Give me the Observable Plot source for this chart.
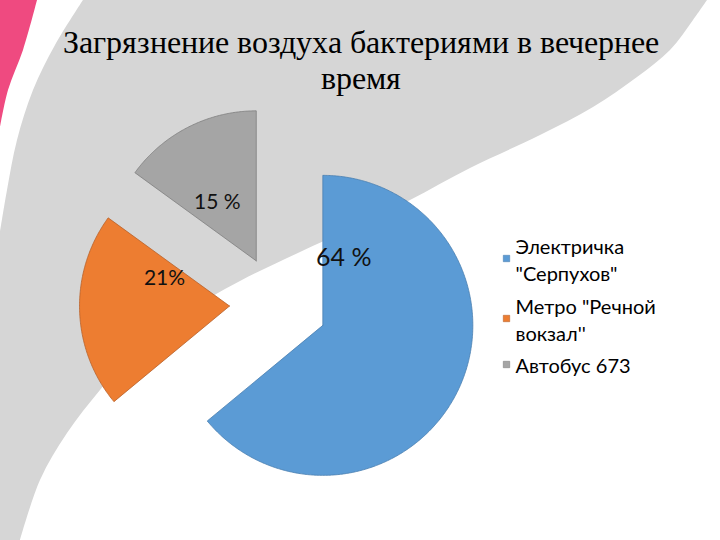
<!DOCTYPE html>
<html>
<head>
<meta charset="utf-8">
<script src="https://cdn.jsdelivr.net/npm/d3@7"></script>
<script src="https://cdn.jsdelivr.net/npm/@observablehq/plot@0.6"></script>
<style>
  @font-face {
    font-family: "TitleSerif";
    src: local("Liberation Serif"), local("LiberationSerif"), local("LiberationSerif-Regular"),
         local("Liberation Serif Regular"), local("Times New Roman"), local("DejaVu Serif"),
         local("DejaVuSerif"), local("Noto Serif");
  }
  html, body { margin: 0; padding: 0; background: #ffffff; }
  #wrap { position: relative; width: 720px; height: 540px; }
  #chart { position: absolute; left: 0; top: 0; width: 720px; height: 540px; }
  #title {
    position: absolute; left: 0; top: 24px; width: 720px;
    text-align: center;
    font-family: "TitleSerif", "Liberation Serif", "Times New Roman", Times, "DejaVu Serif", serif;
    font-size: 32px; line-height: 36px; color: #000;
    padding-left: 2px; box-sizing: border-box;
  }
</style>
</head>
<body>
<div id="wrap">
  <div id="chart"></div>
  <div id="title"></div>
</div>
<script>
// ---------- data ----------
const categories = ['Электричка "Серпухов"', "Метро \"Речной вокзал''", "Автобус 673"];
const legendLines = ['Электричка\n"Серпухов"', "Метро \"Речной\nвокзал''", "Автобус 673"];
const values = [64, 21, 15];
const valueLabels = ["64 %", "21%", "15 %"];
const titleLines = ["Загрязнение воздуха бактериями в вечернее", "время"];

// ---------- styles / layout ----------
const colors = ["#5b9bd5", "#ed7d31", "#a5a5a5"];
const strokes = ["#4a7fb0", "#b8612a", "#7f7f7f"];
const SANS = "Lato, 'Open Sans', 'Noto Sans', sans-serif";
const W = 720, H = 540;
const center = {x: 278, y: 304};
const R = 150;
const explode = 49;
const labelOffset = [{dx: 21, dy: -67}, {dx: -65, dy: -28}, {dx: -39, dy: -59}];
const legendY = [258, 318, 364];

// background decoration (slide design)
const grayEdgeRight = [[707,0],[693,20],[670,50],[637,77],[593,107],[540,135],[470,168],[410,200],[350,229],[300,252],[240,281],[183,314],[135,350],[100,390],[67,433],[40,480],[20,540]];
const grayEdgeLeft = [[0,232],[7,190],[17,140],[33,90],[55,45],[83,0]];
const pinkEdge = [[37,0],[23,50],[8,90],[0,127]];

// ---------- slice geometry from values ----------
const arcs = d3.pie().sort(null).value(d => d)(values);
const slicePts = [];
const corners = [];
arcs.forEach((a, i) => {
  const mid = (a.startAngle + a.endAngle) / 2;
  const cx = center.x + explode * Math.sin(mid);
  const cy = center.y - explode * Math.cos(mid);
  corners.push({cx, cy});
  slicePts.push({key: i, x: cx, y: cy, fill: colors[i], stroke: strokes[i]});
  const n = Math.ceil((a.endAngle - a.startAngle) / 0.01);
  for (let k = 0; k <= n; k++) {
    const ang = a.startAngle + (k / n) * (a.endAngle - a.startAngle);
    slicePts.push({key: i, x: cx + R * Math.sin(ang), y: cy - R * Math.cos(ang), fill: colors[i], stroke: strokes[i]});
  }
  slicePts.push({key: i, x: cx, y: cy, fill: colors[i], stroke: strokes[i]});
});

const labels = values.map((v, i) => ({
  text: valueLabels[i],
  x: corners[i].cx + labelOffset[i].dx,
  y: corners[i].cy + labelOffset[i].dy,
  size: i === 0 ? 25 : 21
}));

const legend = categories.map((c, i) => ({name: c, text: legendLines[i], y: legendY[i], color: colors[i], stroke: strokes[i]}));

function background(index, scales, values, dimensions, context) {
  const g = d3.create("svg:g");
  const line = d3.line().curve(d3.curveCatmullRom.alpha(0.5));
  const right = line(grayEdgeRight);
  const left = line(grayEdgeLeft);
  g.append("path")
    .attr("d", right + "L0,540L" + left.slice(1) + "Z")
    .attr("fill", "#d6d6d6");
  const pink = line(pinkEdge);
  g.append("path")
    .attr("d", "M0,0L" + pink.slice(1) + "Z")
    .attr("fill", "#ef4a80");
  return g.node();
}

const plot = Plot.plot({
  width: W,
  height: H,
  margin: 0,
  style: {background: "transparent", overflow: "visible", fontFamily: SANS},
  x: {domain: [0, W], range: [0, W], axis: null},
  y: {domain: [0, H], range: [0, H], axis: null},
  color: {type: "identity"},
  marks: [
    background,
    Plot.line(slicePts, {
      x: "x", y: "y", z: "key",
      fill: "fill",
      stroke: "stroke",
      strokeWidth: 0.8,
      curve: "linear"
    }),
    Plot.text(labels, {
      x: "x", y: "y", text: "text",
      fontSize: d => d.size,
      fontFamily: SANS,
      fill: "#111111"
    }),
    Plot.dot(legend, {
      x: () => 506, y: "y", symbol: "square", r: 3.6,
      fill: "color", stroke: "stroke", strokeWidth: 0.6
    }),
    Plot.text(legend, {
      x: () => 515, y: "y", text: "text",
      textAnchor: "start",
      fontFamily: SANS,
      fontSize: 20,
      lineHeight: 1.35,
      fill: "#000000"
    })
  ]
});
document.getElementById("chart").append(plot);
const t = document.getElementById("title");
titleLines.forEach(s => { const d = document.createElement("div"); d.textContent = s; t.append(d); });
</script>
</body>
</html>
